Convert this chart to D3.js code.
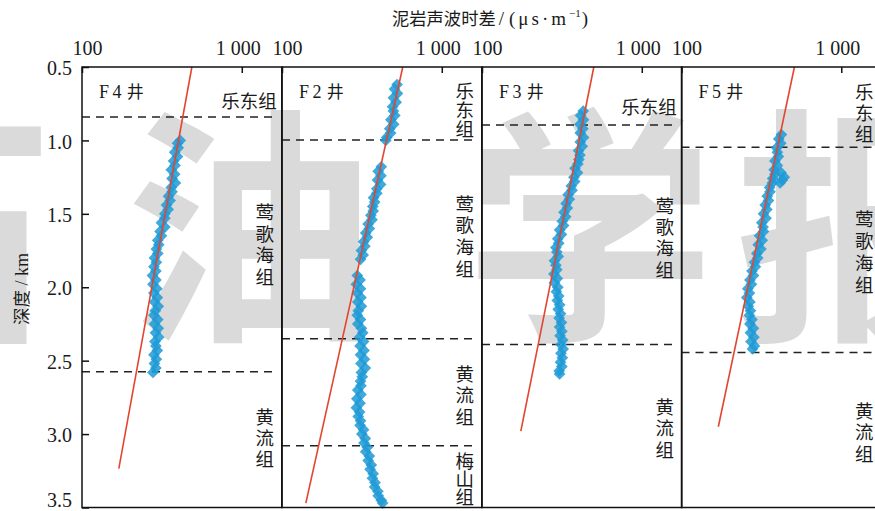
<!DOCTYPE html>
<html>
<head>
<meta charset="utf-8">
<script src="https://cdn.jsdelivr.net/npm/d3@7"></script>
<style>
  html, body { margin: 0; padding: 0; background: #fff; }
  svg { display: block; }
</style>
</head>
<body>
<svg id="chart" width="875" height="511"></svg>
<script>
// ---- data -------------------------------------------------------------
const wellNames = ["F 4", "F 2", "F 3", "F 5"];
const depthTicks = [0.5, 1.0, 1.5, 2.0, 2.5, 3.0, 3.5];
const dtTicks = [100, 1000];
const dtTickLabels = ["100", "1 000"];
const dtDomain = [100, 1780];
const depthDomain = [0.5, 3.5];

// mudstone sonic transit time samples: [depth km, Δt μs/m]
const sonicF4 = [
  [1.00,412],[1.02,396],[1.05,400],[1.08,380],[1.11,396],[1.14,374],[1.17,382],[1.20,362],
  [1.23,380],[1.26,366],[1.29,384],[1.32,362],[1.35,366],[1.38,348],[1.41,356],[1.44,338],
  [1.47,346],[1.50,330],[1.53,330],[1.56,314],[1.59,330],[1.62,308],[1.65,314],[1.68,298],
  [1.71,302],[1.74,292],[1.77,298],[1.80,284],[1.83,292],[1.86,282],[1.89,290],[1.92,276],
  [1.95,290],[1.98,278],[2.01,294],[2.04,282],[2.07,296],[2.10,284],[2.13,300],[2.16,288],
  [2.19,282],[2.22,298],[2.25,284],[2.28,300],[2.31,288],[2.34,302],[2.37,286],[2.40,290],
  [2.43,296],[2.46,282],[2.49,292],[2.52,284],[2.55,290],[2.58,278]
];
const sonicF2 = [
  [0.62,525],[0.65,506],[0.68,528],[0.71,498],[0.74,518],[0.77,492],[0.80,498],[0.83,508],
  [0.86,480],[0.89,500],[0.92,472],[0.95,478],[0.98,452],[1.00,446],
  [1.18,418],[1.21,400],[1.24,416],[1.27,396],[1.30,414],[1.33,392],[1.36,392],[1.39,374],
  [1.42,380],[1.45,370],[1.48,372],[1.51,360],[1.54,366],[1.57,346],[1.60,352],[1.63,334],
  [1.66,342],[1.69,324],[1.72,330],[1.75,314],[1.78,322],[1.81,310],
  [1.92,296],[1.95,308],[1.98,292],[2.01,310],[2.04,296],[2.07,312],[2.10,298],[2.13,314],
  [2.16,300],[2.19,296],[2.22,310],[2.25,298],[2.28,314],[2.31,320],[2.34,306],[2.37,324],
  [2.40,308],[2.43,326],[2.46,310],[2.49,328],[2.52,312],[2.55,332],[2.58,314],[2.61,318],
  [2.64,310],[2.67,312],[2.70,298],[2.73,312],[2.76,294],[2.79,308],[2.82,292],[2.85,306],
  [2.88,300],[2.91,310],[2.94,308],[2.97,324],[3.00,316],[3.03,332],[3.06,326],[3.09,342],
  [3.12,334],[3.15,352],[3.18,346],[3.21,362],[3.24,356],[3.27,372],[3.30,368],[3.33,382],
  [3.36,380],[3.39,398],[3.42,400],[3.45,418],[3.47,426]
];
const sonicF3 = [
  [0.80,430],[0.83,414],[0.86,432],[0.89,410],[0.92,428],[0.95,412],[0.98,432],[1.01,412],
  [1.04,424],[1.07,402],[1.10,410],[1.13,404],[1.16,398],[1.19,382],[1.22,396],[1.25,376],
  [1.28,380],[1.31,362],[1.34,366],[1.37,346],[1.40,352],[1.43,336],[1.46,342],[1.49,326],
  [1.52,334],[1.55,318],[1.58,324],[1.61,306],[1.64,314],[1.67,298],[1.70,302],[1.73,290],
  [1.76,294],[1.79,300],[1.82,284],[1.85,290],[1.88,294],[1.91,282],[1.94,296],[1.97,284],
  [2.00,298],[2.03,292],[2.06,302],[2.09,296],[2.12,306],[2.15,300],[2.18,310],[2.21,304],
  [2.24,314],[2.27,306],[2.30,316],[2.33,308],[2.36,320],[2.39,312],[2.42,322],[2.45,312],
  [2.48,318],[2.51,310],[2.54,316],[2.57,304],[2.59,306]
];
const sonicF5 = [
  [0.96,422],[0.99,406],[1.02,418],[1.05,394],[1.08,398],[1.11,404],[1.14,384],[1.17,398],
  [1.20,380],[1.22,420],[1.23,384],[1.25,440],[1.26,372],[1.27,428],[1.29,370],[1.29,414],
  [1.32,356],[1.35,358],[1.38,344],[1.41,350],[1.44,334],[1.47,342],[1.50,326],[1.53,338],
  [1.56,318],[1.59,324],[1.62,326],[1.65,308],[1.68,320],[1.71,302],[1.74,314],[1.77,296],
  [1.80,300],[1.83,286],[1.86,290],[1.89,276],[1.92,282],[1.95,268],[1.98,274],[2.01,260],
  [2.04,266],[2.07,256],[2.10,268],[2.13,262],[2.16,270],[2.19,266],[2.22,276],[2.25,268],
  [2.28,282],[2.31,270],[2.34,284],[2.37,272],[2.40,286],[2.42,278]
];

// normal-compaction trend lines: [depth km, Δt μs/m] end points
const trendF4 = [[0.5,487],[3.235,170]];
const trendF2 = [[0.5,570],[3.47,141]];
const trendF3 = [[0.5,501],[2.98,175]];
const trendF5 = [[0.5,509],[2.95,170]];

// formation boundary depths, km
const boundariesF4 = [0.84, 2.575];
const boundariesF2 = [0.997, 2.35, 3.08];
const boundariesF3 = [0.895, 2.39];
const boundariesF5 = [1.046, 2.445];

// formation names, top to bottom
const formationsF4 = ["乐东组", "莺歌海组", "黄流组"];
const formationsF2 = ["乐东组", "莺歌海组", "黄流组", "梅山组"];
const formationsF3 = ["乐东组", "莺歌海组", "黄流组"];
const formationsF5 = ["乐东组", "莺歌海组", "黄流组"];

// ---- layout -----------------------------------------------------------
const CJK = "'Noto Sans CJK SC', 'Noto Sans', sans-serif";
const SERIF = "'Liberation Serif', 'DejaVu Serif', serif";
const panelLefts = [82, 282, 482, 681.5];
const panelW = 199.8;
const plotTop = 67, plotBottom = 507.5;

// label placement for each formation name: horizontal (h) or stacked vertically (v),
// anchored at a depth (top of first character for v, baseline for h)
const labelLayout = [
  [{mode:"h", depth:0.779}, {mode:"v", depth:1.425, step:21.8}, {mode:"v", depth:2.82, step:21}],
  [{mode:"v", depth:0.602, step:18.8}, {mode:"v", depth:1.371, step:21.6}, {mode:"v", depth:2.527, step:21.5}, {mode:"v", depth:3.119, step:18}],
  [{mode:"h", depth:0.82}, {mode:"v", depth:1.384, step:21.3}, {mode:"v", depth:2.752, step:21.5}],
  [{mode:"v", depth:0.609, step:21}, {mode:"v", depth:1.473, step:22}, {mode:"v", depth:2.779, step:21.5}]
];

const wells = [
  {name: wellNames[0], pts: sonicF4, trend: trendF4, bounds: boundariesF4, forms: formationsF4},
  {name: wellNames[1], pts: sonicF2, trend: trendF2, bounds: boundariesF2, forms: formationsF2},
  {name: wellNames[2], pts: sonicF3, trend: trendF3, bounds: boundariesF3, forms: formationsF3},
  {name: wellNames[3], pts: sonicF5, trend: trendF5, bounds: boundariesF5, forms: formationsF5}
];

const svg = d3.select("#chart");
svg.append("rect").attr("width", 875).attr("height", 511).attr("fill", "#fff");

// journal watermark behind the plot
const wm = svg.append("g").attr("fill", "#dadada")
  .attr("font-family", CJK).attr("font-weight", 700).attr("font-size", 250)
  .attr("text-anchor", "middle");
[["石", -70], ["油", 250], ["学", 590], ["报", 860]].forEach(([ch, cx]) => {
  wm.append("text").attr("x", cx).attr("y", 322).text(ch);
});

const y = d3.scaleLinear().domain(depthDomain).range([plotTop, plotBottom]);

const diamond = d3.symbol().type(d3.symbolDiamond2 || d3.symbolSquare).size(88)();

wells.forEach((w, i) => {
  const left = panelLefts[i];
  const x = d3.scaleLog().domain(dtDomain).range([0, panelW]);
  const g = svg.append("g").attr("transform", `translate(${left},0)`);

  // formation boundaries
  g.selectAll("line.bound").data(w.bounds).join("line")
    .attr("class", "bound")
    .attr("x1", 0).attr("x2", panelW - 4)
    .attr("y1", d => y(d)).attr("y2", d => y(d))
    .attr("stroke", "#222").attr("stroke-width", 1.5)
    .attr("stroke-dasharray", "8,6");

  // sonic samples
  g.append("g").selectAll("path").data(w.pts).join("path")
    .attr("d", diamond)
    .attr("transform", d => `translate(${x(d[1])},${y(d[0])})`)
    .attr("fill", "#1e9ad6").attr("fill-opacity", 0.85);

  // compaction trend
  g.append("path").datum(w.trend)
    .attr("d", d3.line().x(d => x(d[1])).y(d => y(d[0])))
    .attr("stroke", "#e2462f").attr("stroke-width", 1.6).attr("fill", "none");

  // well name
  const t = g.append("text").attr("x", 17).attr("y", 98).attr("fill", "#1a1a1a").attr("font-size", 17);
  t.append("tspan").attr("font-family", SERIF).attr("font-size", 18).text(w.name.replace(" ", "\u2009"));
  t.append("tspan").attr("font-family", CJK).attr("dx", 5).text("井");

  // formation names
  w.forms.forEach((name, k) => {
    const lay = labelLayout[i][k];
    if (lay.mode === "h") {
      g.append("text").attr("x", panelW - 5).attr("y", y(lay.depth))
        .attr("text-anchor", "end").attr("font-family", CJK).attr("font-size", 18.5)
        .attr("fill", "#1a1a1a").text(name);
    } else {
      Array.from(name).forEach((ch, c) => {
        g.append("text").attr("x", panelW - 17).attr("y", y(lay.depth) + 16 + c * lay.step)
          .attr("text-anchor", "middle").attr("font-family", CJK).attr("font-size", 18.5)
          .attr("fill", "#1a1a1a").text(ch);
      });
    }
  });

  // frame
  g.append("rect").attr("x", 0).attr("y", plotTop).attr("width", panelW).attr("height", plotBottom - plotTop)
    .attr("fill", "none").attr("stroke", "#111").attr("stroke-width", 1.5);

  // top log axis
  const ax = g.append("g").attr("transform", `translate(0,${plotTop})`)
    .call(d3.axisTop(x).tickValues(dtTicks).tickFormat((d, j) => dtTickLabels[j])
      .tickSizeInner(-6).tickSizeOuter(0).tickPadding(12));
  ax.select(".domain").remove();
  ax.selectAll("line").attr("stroke", "#111").attr("stroke-width", 1.5);
  ax.selectAll("text").attr("font-family", SERIF).attr("font-size", 20).attr("fill", "#1a1a1a")
    .attr("dx", d => d === 100 ? 5 : -4);

  // depth axis on the first panel
  if (i === 0) {
    const ay = g.append("g")
      .call(d3.axisLeft(y).tickValues(depthTicks).tickFormat(d3.format(".1f"))
        .tickSizeInner(-7).tickSizeOuter(0).tickPadding(10));
    ay.select(".domain").remove();
    ay.selectAll("line").attr("stroke", "#111").attr("stroke-width", 1.5);
    ay.selectAll("text").attr("font-family", SERIF).attr("font-size", 20).attr("fill", "#1a1a1a")
      .attr("dy", d => d === depthDomain[1] ? "-0.05em" : "0.38em");
  }
});

// axis titles
const title = svg.append("text").attr("x", 392).attr("y", 25).attr("fill", "#1a1a1a");
title.append("tspan").attr("font-family", CJK).attr("font-size", 17.3).text("泥岩声波时差");
title.append("tspan").attr("font-family", SERIF).attr("font-size", 19).attr("dx", 3).text("/");
title.append("tspan").attr("font-family", SERIF).attr("font-size", 19).attr("dx", 5)
  .attr("letter-spacing", 3).text("(μs·m");
title.append("tspan").attr("font-family", SERIF).attr("font-size", 11).attr("dy", -8).text("−1");
title.append("tspan").attr("font-family", SERIF).attr("font-size", 19).attr("dx", 1).attr("dy", 8).text(")");

const ytitle = svg.append("text").attr("transform", "translate(28,289) rotate(-90)")
  .attr("text-anchor", "middle").attr("fill", "#1a1a1a");
ytitle.append("tspan").attr("font-family", CJK).attr("font-size", 17.5).text("深度");
ytitle.append("tspan").attr("font-family", SERIF).attr("font-size", 18).text(" / km");
</script>
</body>
</html>
